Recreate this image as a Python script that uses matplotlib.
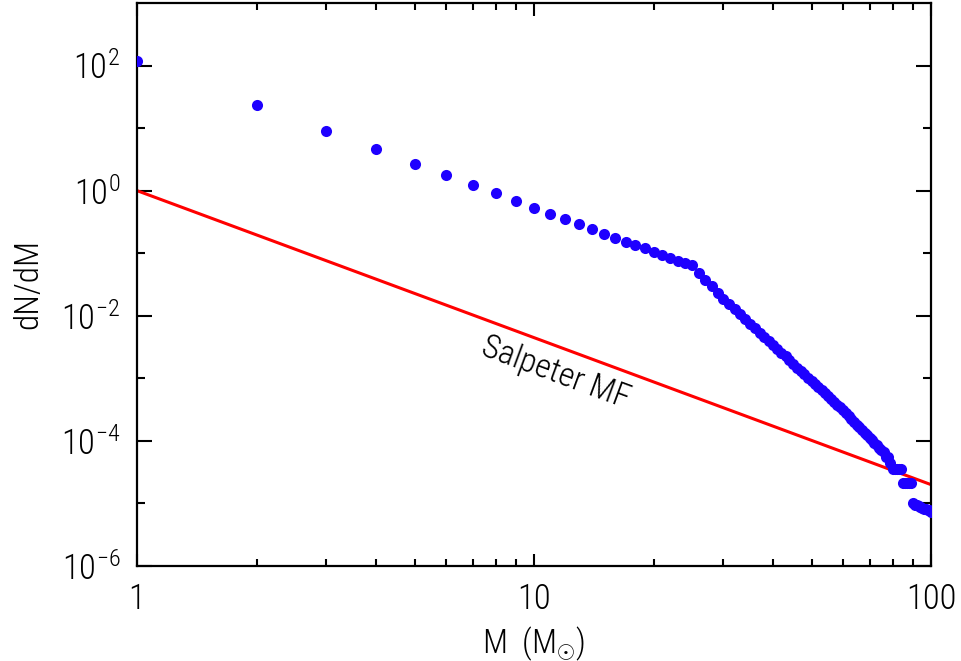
import matplotlib
matplotlib.use("Agg")
import matplotlib.pyplot as plt
from matplotlib.ticker import FixedLocator, NullFormatter

plt.rcParams['font.family'] = ['Roboto Condensed', 'DejaVu Sans']
plt.rcParams['font.weight'] = 'light'
plt.rcParams['axes.labelweight'] = 'light'
plt.rcParams['mathtext.fontset'] = 'custom'
plt.rcParams['mathtext.rm'] = 'Roboto Condensed:weight=light'
plt.rcParams['mathtext.it'] = 'Roboto Condensed:weight=light'

# mass function (one point per solar mass)
mass = list(range(1, 101))
dndm = [119, 23.6, 9.1, 4.7, 2.7, 1.8, 1.25, 0.93, 0.69, 0.535,
        0.43, 0.357, 0.297, 0.247, 0.205, 0.177, 0.153, 0.137, 0.119, 0.106,
        0.095, 0.085, 0.076, 0.071, 0.066, 0.049, 0.038, 0.0295, 0.0234, 0.0186,
        0.0155, 0.0126, 0.0105, 8.9e-3, 7.4e-3, 6.3e-3, 5.4e-3, 4.6e-3, 4.0e-3, 3.4e-3,
        2.95e-3, 2.57e-3, 2.24e-3, 1.95e-3, 1.70e-3, 1.48e-3, 1.32e-3, 1.17e-3, 1.02e-3, 9.1e-4,
        8.1e-4, 7.2e-4, 6.5e-4, 5.9e-4, 5.2e-4, 4.7e-4, 4.2e-4, 3.8e-4, 3.5e-4, 3.1e-4,
        2.75e-4, 2.5e-4, 2.24e-4, 2.04e-4, 1.82e-4, 1.66e-4, 1.48e-4, 1.35e-4, 1.23e-4, 1.12e-4,
        1.02e-4, 9.3e-5, 8.5e-5, 7.8e-5, 7.1e-5, 6.6e-5, 5.6e-5, 5.6e-5, 4.5e-5, 3.6e-5,
        3.6e-5, 3.6e-5, 3.6e-5, 3.6e-5, 2.1e-5, 2.1e-5, 2.1e-5, 2.1e-5, 2.1e-5, 1.0e-5,
        9.5e-6, 9.3e-6, 9.1e-6, 8.9e-6, 8.5e-6, 8.3e-6, 8.1e-6, 7.9e-6, 7.8e-6, 7.4e-6]

# Salpeter slope, normalised to 1 at 1 Msun
salpeter_m = [1, 100]
salpeter_dndm = [1.0, 2.0e-5]

xticks = [1, 10, 100]
xticklabels = ['1', '10', '100']
yticks = [1e-6, 1e-4, 1e-2, 1e0, 1e2]
yticklabels = [r'$10^{-6}$', r'$10^{-4}$', r'$10^{-2}$', r'$10^{0}$', r'$10^{2}$']

fig = plt.figure(figsize=(9.61, 6.61), dpi=100)
ax = fig.add_axes([0.1426, 0.1437, 0.8262, 0.8518])

ax.plot(salpeter_m, salpeter_dndm, color='#ff0000', lw=2.2, zorder=2)
ax.plot(mass, dndm, 'o', color='#1e00ff', ms=8, mew=0, zorder=3)

ax.set_xscale('log')
ax.set_yscale('log')
ax.set_xlim(1, 100)
ax.set_ylim(1e-6, 1e3)

ax.xaxis.set_major_locator(FixedLocator(xticks))
ax.set_xticklabels(xticklabels)
ax.xaxis.set_minor_locator(FixedLocator([2, 3, 4, 5, 6, 7, 8, 9, 20, 30, 40, 50, 60, 70, 80, 90]))
ax.xaxis.set_minor_formatter(NullFormatter())
ax.yaxis.set_major_locator(FixedLocator(yticks))
ax.set_yticklabels(yticklabels)
ax.yaxis.set_minor_locator(FixedLocator([1e-5, 1e-3, 1e-1, 1e1]))
ax.yaxis.set_minor_formatter(NullFormatter())

ax.tick_params(which='both', direction='in', top=True, right=True, width=1.5, labelsize=25)
ax.tick_params(axis='x', which='major', length=9, pad=12)
ax.tick_params(axis='x', which='minor', length=5)
ax.tick_params(axis='y', which='major', length=11, pad=12)
ax.tick_params(axis='y', which='minor', length=6)
for s in ax.spines.values():
    s.set_linewidth(1.6)

ax.set_xlabel(r'M  (M$_{\odot}$)', fontsize=24, labelpad=6)
ax.set_ylabel('dN/dM', fontsize=24, labelpad=12)

ax.text(11.3, 1.2e-3, 'Salpeter MF', fontsize=24, rotation=-20.3, style='normal',
        ha='center', va='center', rotation_mode='anchor')

fig.savefig('out.png', dpi=100)
